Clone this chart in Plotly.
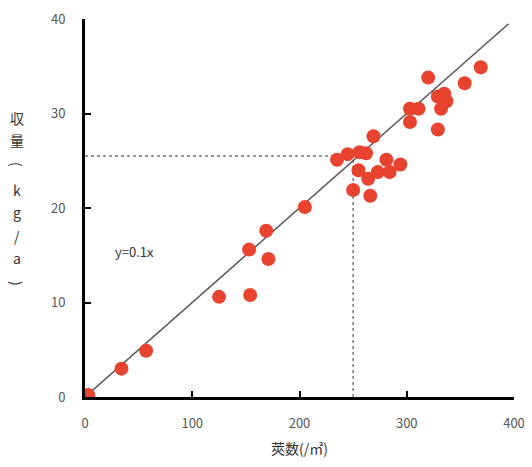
import plotly.graph_objects as go

pod_count = [3, 34, 57, 125, 154, 153, 171, 169, 205, 269, 235, 245, 256, 262, 255, 250,
             266, 264, 273, 281, 284, 294, 303, 311, 303, 320, 329, 335, 332, 329, 354, 369, 337]
yield_kg = [0.2, 3.0, 4.9, 10.6, 10.8, 15.6, 14.6, 17.6, 20.1, 27.6, 25.1, 25.7, 25.9, 25.8,
            24.0, 21.9, 21.3, 23.1, 23.8, 25.1, 23.8, 24.6, 30.5, 30.5, 29.1, 33.8, 31.8,
            32.1, 30.5, 28.3, 33.2, 34.9, 31.3]
fit_x = [0, 395]
fit_slope = 0.1
ref_x = 250
ref_y = 25.5
x_ticks = [0, 100, 200, 300, 400]
y_ticks = [0, 10, 20, 30, 40]
y_title_chars = ["収", "量", "(", "k", "g", "/", "a", ")"]

FONT = "Noto Sans CJK JP"
# page body has an 8px default margin; sizes compensate for it
W, H = 524, 459
ML, MR, MT, MB = 77, 18, 11, 70
PW = W - ML - MR
PH = H - MT - MB
OFF = 8

fig = go.Figure()
fig.add_trace(go.Scatter(x=[0, ref_x], y=[ref_y, ref_y], mode="lines",
                         line=dict(color="#333333", width=1, dash="3px,3px"),
                         hoverinfo="skip", showlegend=False))
fig.add_trace(go.Scatter(x=[ref_x, ref_x], y=[0, ref_y], mode="lines",
                         line=dict(color="#333333", width=1, dash="3px,3px"),
                         hoverinfo="skip", showlegend=False))
fig.add_trace(go.Scatter(x=fit_x, y=[v * fit_slope for v in fit_x], mode="lines",
                         line=dict(color="#555555", width=1.5),
                         hoverinfo="skip", showlegend=False))
fig.add_trace(go.Scatter(x=pod_count, y=yield_kg, mode="markers",
                         marker=dict(color="#E8432E", size=14, line=dict(width=0)),
                         showlegend=False))

fig.add_annotation(x=46, y=15.4, text="y=0.1x", showarrow=False,
                   font=dict(family=FONT, size=13, color="#333333"))

title_px = [118, 140, 164, 190, 212, 236, 258, 283]
for ch, py in zip(y_title_chars, title_px):
    rot = 90 if ch in "()" else 0
    fig.add_annotation(xref="paper", yref="paper", x=(17 - OFF - ML) / PW,
                       y=(H - MB - (py - OFF)) / PH, text=ch, showarrow=False,
                       textangle=rot, xanchor="center", yanchor="middle",
                       font=dict(family=FONT, size=14, color="#333333"))

fig.update_layout(
    width=W, height=H,
    margin=dict(l=ML, r=MR, t=MT, b=MB),
    paper_bgcolor="white", plot_bgcolor="white",
    font=dict(family=FONT, size=13, color="#555555"),
    xaxis=dict(range=[0, 400], tickvals=x_ticks, ticks="inside", ticklen=6, tickwidth=2,
               tickcolor="black", showline=True, linecolor="black", linewidth=3,
               showgrid=False, zeroline=False, ticklabelstandoff=12, automargin=False,
               title=dict(text="莢数(/㎡)", font=dict(family=FONT, size=14, color="#333333"),
                          standoff=14)),
    yaxis=dict(range=[0, 40], tickvals=y_ticks, ticks="inside", ticklen=6, tickwidth=2,
               tickcolor="black", showline=True, linecolor="black", linewidth=3,
               showgrid=False, zeroline=False, ticklabelstandoff=14, automargin=False),
)
fig.write_html("out.html")
